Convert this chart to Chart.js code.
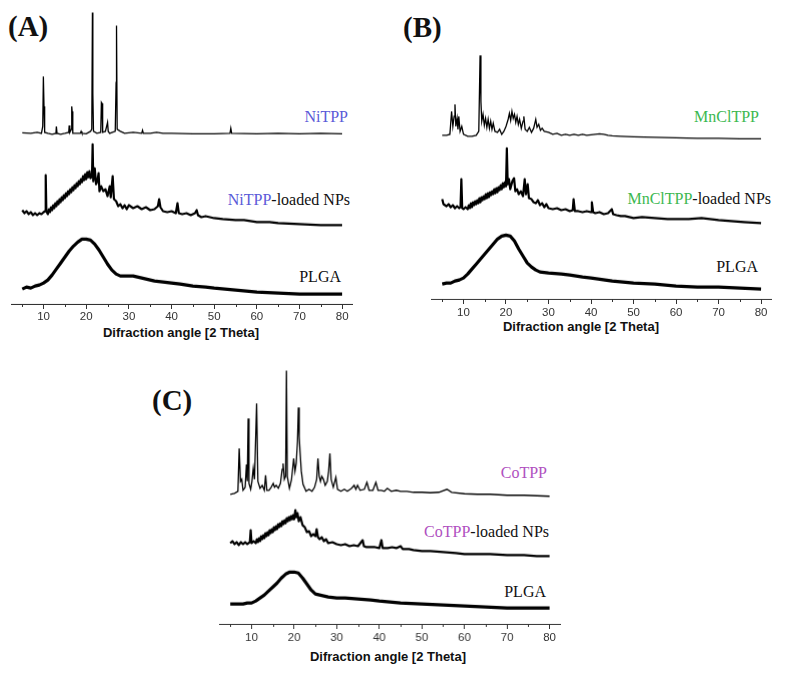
<!DOCTYPE html>
<html>
<head>
<meta charset="utf-8">
<script src="https://cdn.jsdelivr.net/npm/chart.js@4.4.1/dist/chart.umd.min.js"></script>
<style>
  html, body { margin: 0; padding: 0; background: #fff; }
  body { position: relative; width: 786px; height: 680px; overflow: hidden; }
  .box { position: absolute; }
  .lbl { position: absolute; font-family: "Liberation Serif", serif; font-size: 16px; line-height: 16px; color: #111; white-space: nowrap; }
  .tag { position: absolute; font-family: "Liberation Serif", serif; font-weight: bold; font-size: 29px; line-height: 29px; color: #111; }
  .xt  { position: absolute; font-family: "Liberation Sans", Arial, sans-serif; font-weight: bold; font-size: 13px; line-height: 14px; color: #111; white-space: nowrap; transform: translateX(-50%); }
</style>
</head>
<body>

<div class="tag" style="left:8px; top:12px;">(A)</div>
<div class="tag" style="left:403px; top:13px;">(B)</div>
<div class="tag" style="left:152px; top:386px;">(C)</div>

<div class="lbl" style="right:438px; top:109px;"><span style="color:#5a5ad8">NiTPP</span></div>
<div class="lbl" style="right:436px; top:192px;"><span style="color:#5a5ad8">NiTPP</span>-loaded NPs</div>
<div class="lbl" style="right:445px; top:269px;">PLGA</div>

<div class="lbl" style="right:27px; top:109px;"><span style="color:#3cb850">MnClTPP</span></div>
<div class="lbl" style="right:15px; top:191px;"><span style="color:#3cb850">MnClTPP</span>-loaded NPs</div>
<div class="lbl" style="right:28px; top:259px;">PLGA</div>

<div class="lbl" style="right:239px; top:465px;"><span style="color:#b050c0">CoTPP</span></div>
<div class="lbl" style="right:237px; top:524px;"><span style="color:#b050c0">CoTPP</span>-loaded NPs</div>
<div class="lbl" style="right:240px; top:584px;">PLGA</div>

<div class="xt" style="left:181px; top:326px;">Difraction angle [2 Theta]</div>
<div class="xt" style="left:581px; top:320px;">Difraction angle [2 Theta]</div>
<div class="xt" style="left:388px; top:650px;">Difraction angle [2 Theta]</div>

<div class="box" id="boxA"><canvas id="cA"></canvas></div>
<div class="box" id="boxB"><canvas id="cB"></canvas></div>
<div class="box" id="boxC"><canvas id="cC"></canvas></div>

<script>
// x ticks (2 Theta), labels only on multiples of 10
const tickValues = [5, 10, 15, 20, 25, 30, 35, 40, 45, 50, 55, 60, 65, 70, 75, 80];

// ---- panel A (intensity, a.u., offset stacked) ----
const niTPP = [
  [5,171.5],[7,171],[8.5,172],[9.5,171],[9.8,178],[9.95,228],[10.1,198],[10.25,172],[11,171],[12,170],
  [12.9,171],[13,178],[13.15,171],[14,170],[15,171],[15.9,172],[16,179],[16.15,172],[16.5,175],[16.6,198],
  [16.7,193],[16.85,171],[17.5,171],[18.6,171],[18.8,173],[19,171],[20,170.5],[21,173],[21.3,175],[21.45,292],
  [21.55,211],[21.7,173],[22.5,171],[23.4,172],[23.55,202],[23.7,201],[23.85,172],[24.5,173],[25,182],[25.15,173],
  [25.5,171],[26.8,173],[27,222],[27.1,279],[27.25,175],[28,173],[29,171],[31,172],[33,171],[33.2,174],
  [33.4,171],[35,171],[36.5,172],[38,171],[40,171],[45,170.5],[50,170.5],[53.7,171],[53.9,176],[54.1,171],
  [60,170.5],[65,171],[70,170.5],[75,171],[80,170.5]
];
const niTPPnp = [
  [5,94],[5.5,91],[6,93],[6.5,90],[7,92],[7.5,89],[8,91],[8.5,89],[9,91],[9.5,90],
  [10,92],[10.35,93],[10.5,129],[10.65,93],[11,90],[11.25,95],[11.5,92],[11.75,97],[12,94],[12.25,99],
  [12.5,96],[12.75,101],[13,98],[13.25,103],[13.5,100],[13.75,105],[14,102],[14.25,107],[14.5,104],[14.75,109],
  [15,106],[15.25,111],[15.5,108],[15.75,113],[16,110],[16.25,115],[16.5,112],[16.75,117],[17,114],[17.25,119],
  [17.5,116],[17.75,121],[18,118],[18.25,123],[18.5,120],[18.75,125],[19,122],[19.25,128],[19.5,124],[19.75,130],
  [20,125],[20.25,132],[20.5,127],[20.75,133],[21,126],[21.35,128],[21.5,160],[21.65,123],[22,136],[22.3,120],
  [22.6,123],[22.9,131],[23.1,113],[23.5,118],[24,113],[24.5,115],[25,108],[25.5,118],[25.75,107],[26.2,128],
  [26.5,105],[27,103],[27.5,98],[28,100],[28.5,96],[29,99],[29.5,95],[30,99],[31,96],[32,98],[33,95],[34,97],
  [35,94],[36,95],[36.8,98],[37.1,105],[37.4,97],[38,93],[39,92],[40,93],[41,91],[41.4,101],
  [41.7,91],[42.5,90],[43.5,91],[44.5,89],[45.5,91],[45.9,94],[46.2,89],[47,87],[48,88],[50,86],
  [52,85],[55,84],[57,84],[60,82],[63,82],[65,81],[70,80],[75,79],[80,79]
];
const plgaA = [
  [5,15],[6,17],[7,16],[8,18],[9,19],[10,21],[11,24],[12,29],[13,35],[14,41],
  [15,47],[16,53],[17,58],[18,62],[19,65],[20,65],[21,64],[22,60],[23,54],[24,47],
  [25,40],[26,34],[27,30],[28,28],[29,28],[30,28],[31,28],[32,27],[34,25],[36,23],
  [38,22],[40,21],[42,20],[45,18],[48,17],[50,16],[55,14],[60,12],[65,11],[70,10],[75,10],[80,10]
];

// ---- panel B ----
const mnClTPP = [
  [5,164],[6,164],[6.8,165],[7.2,188],[7.5,173],[7.8,183],[8,195],[8.2,173],[8.5,181],[8.7,170],
  [8.9,183],[9.2,168],[9.6,173],[10,165],[11,163],[12,163],[13,164],[13.6,168],[13.9,244],[14.1,198],
  [14.3,178],[14.6,185],[14.9,174],[15.2,181],[15.5,172],[15.8,180],[16.1,171],[16.4,178],[16.7,170],[17,176],
  [17.4,168],[18,167],[18.5,170],[19,165],[19.5,168],[20,173],[20.5,180],[20.8,186],[21.1,179],[21.4,188],
  [21.7,181],[22,185],[22.3,177],[22.6,183],[22.9,175],[23.2,180],[23.6,171],[24,178],[24.2,183],[24.5,170],
  [25,168],[25.5,172],[26,167],[26.5,171],[27,180],[27.3,172],[27.7,175],[28.1,169],[28.5,171],[29,168],
  [30,167],[31,165],[32,166],[33,164],[34,165],[35,164],[36,165],[37,164],[38,165],[39,164],
  [40,164.5],[41,165],[42,165.5],[43,165],[44,164],[45,163.5],[47,163],[50,162.5],[55,162],[60,161.5],
  [65,161],[70,161],[75,160.5],[80,160.5]
];
const mnClTPPnp = [
  [5,100],[5.3,95],[6,93],[6.5,95],[7,92],[7.5,94],[8,91],[8.5,93],[9,91],[9.3,92],
  [9.5,120],[9.7,91],[10,90],[10.5,92],[11,90],[11.25,94],[11.5,91],[11.75,96],[12,92],[12.25,97],
  [12.5,94],[12.75,98],[13,95],[13.25,99],[13.5,96],[13.75,101],[14,97],[14.25,102],[14.5,99],[14.75,103],
  [15,100],[15.25,105],[15.5,101],[15.75,106],[16,102],[16.25,107],[16.5,104],[16.75,108],[17,105],[17.25,110],
  [17.5,106],[17.75,111],[18,107],[18.25,112],[18.5,109],[18.75,114],[19,110],[19.25,116],[19.5,112],[19.75,117],
  [20,113],[20.2,151],[20.4,115],[20.7,120],[21,110],[21.5,118],[21.9,121],[22.2,108],
  [22.6,110],[23,105],[23.5,108],[24,103],[24.4,120],[24.7,105],[25.1,115],[25.4,101],[26,100],[26.5,97],
  [27,96],[27.5,99],[28,94],[28.5,96],[29,92],[29.5,95],[30,91],[31,90],[32,91],[33,89],[34,90],[35,88],[35.7,89],
  [35.9,100],[36.2,88],[37,88],[38,87],[39,88],[40,87],[40.2,97],[40.5,87],[41,86],[42,87],
  [43,85],[44,86],[44.9,90],[45.2,85],[46,84],[47,83],[48,83],[50,81],[52,82],[55,81],
  [58,80],[60,80],[63,80],[66,81],[70,79],[73,78],[76,77],[80,76]
];
const plgaB = [
  [5,15],[6,16],[7,16],[8,18],[9,19],[10,21],[11,25],[12,30],[13,35],[14,40],
  [15,45],[16,50],[17,55],[18,60],[19,63],[20,64],[21,63],[22,58],[23,50],[24,43],
  [25,36],[26,32],[27,29],[28,27],[30,26],[33,25],[35,24],[38,22],[40,21],[45,18],
  [50,16],[55,15],[60,13],[65,12],[70,12],[75,11],[80,10]
];

// ---- panel C ----
const coTPP = [
  [5,130],[6,131],[6.8,133],[7.1,176],[7.4,143],[7.7,145],[8,134],[8.5,137],[8.8,160],[9,143],
  [9.2,206],[9.4,141],[9.8,135],[10.1,143],[10.4,156],[10.7,145],[11.2,221],[11.5,143],[12,136],[12.5,139],
  [13,134],[13.3,149],[13.6,134],[14.1,134],[14.6,137],[15.1,141],[15.4,137],[15.8,139],[16.3,136],[16.8,141],
  [17.2,155],[17.4,161],[17.7,145],[18,148],[18.2,254],[18.4,148],[18.9,136],[19.4,145],[19.9,166],[20.2,153],
  [20.5,161],[20.8,183],[21,217],[21.2,188],[21.4,173],[21.7,153],[22.1,140],[22.8,133],[23.5,135],[24.2,133],
  [24.8,137],[25.3,145],[25.6,166],[25.9,148],[26.2,143],[26.5,148],[26.9,145],[27.3,139],[27.8,143],[28.1,153],
  [28.4,171],[28.7,145],[29.2,137],[29.8,147],[30.2,135],[31,133],[31.8,135],[32.5,133],[33.5,136],[34.1,139],
  [34.5,135],[34.9,139],[35.5,134],[36.5,135],[37.1,142],[37.6,134],[38.5,134],[39.2,142],[39.7,134],[40.5,134],
  [41.2,133],[41.9,136],[42.8,133],[44,134],[45,133],[46.5,133],[48,132],[50,132],[52,131.5],[54,132],
  [55.9,135],[57,132],[60,130.5],[63,130],[66,130],[70,129],[74,129],[77,128.5],[80,128]
];
const coTPPnp = [
  [5,81],[5.5,83],[6,80],[6.5,82],[7,79],[7.5,82],[8,80],[8.5,82],[9,80],[9.6,82],
  [9.8,94],[10,81],[10.5,83],[11,81],[11.25,85],[11.5,82],[11.75,86],[12,83],[12.25,88],[12.5,85],
  [12.75,89],[13,86],[13.25,91],[13.5,88],[13.75,92],[14,89],[14.25,94],[14.5,91],[14.75,95],[15,92],
  [15.25,97],[15.5,94],[15.75,98],[16,95],[16.25,100],[16.5,97],[16.75,101],[17,98],[17.25,103],[17.5,100],
  [17.75,104],[18,101],[18.25,106],[18.5,103],[18.75,107],[19,104],[19.25,108],[19.5,105],[19.75,109],[20,105],
  [20.3,114],[20.5,107],[20.8,111],[21.1,103],[21.5,107],[22,99],[22.5,97],[23,92],
  [23.5,93],[24,88],[24.5,90],[25,88],[25.3,95],[25.6,87],[26,85],[26.5,87],[27,83],[27.5,85],[28,81],[29,82],
  [30,80],[31,79],[32,80],[33,78],[34,79],[35,78],[36.1,84],[36.4,78],[37,77],[38,77],
  [39,77],[40,76],[40.5,84],[40.8,76],[42,76],[43,77],[44,76],[45,78],[45.5,75],[47,75],
  [48,74],[50,73],[52,73],[55,72],[58,71],[60,70],[63,70],[66,70],[70,69],[74,69],[77,68],[80,68]
];
const plgaC = [
  [5,20],[6,20],[7,20],[8,20],[9,21],[10,21],[11,23],[12,26],[13,29],[14,33],
  [15,37],[16,41],[17,46],[18,50],[19,52],[20,52],[21,51],[22,46],[23,40],[24,34],
  [25,30],[26,29],[27,28],[28,27],[30,26],[32,26],[35,25],[38,24],[40,23],[45,21],
  [50,20],[55,19],[60,18],[65,17],[70,16],[75,16],[80,16]
];

// 副目盛 (5, 15, ...) を短く描く
const minorTicks = {
  id: 'minorTicks',
  afterDraw(chart) {
    const xs = chart.scales.x;
    const ctx = chart.ctx;
    ctx.save();
    ctx.strokeStyle = '#333';
    ctx.lineWidth = 1;
    tickValues.forEach(function(v) {
      if (v % 10 === 0) return;
      const px = Math.round(xs.getPixelForValue(v)) + 0.5;
      ctx.beginPath();
      ctx.moveTo(px, xs.top);
      ctx.lineTo(px, xs.top + 3);
      ctx.stroke();
    });
    ctx.restore();
  }
};

function toPts(arr) {
  return arr.map(function(p) { return {x: p[0], y: p[1]}; });
}

function makePanel(id, boxId, opt, series) {
  const box = document.getElementById(boxId);
  const lh = 11.5;
  const h = opt.yMax + 5 + opt.pad * 2 + lh;
  box.style.left = opt.left + 'px';
  box.style.top = opt.top + 'px';
  box.style.width = opt.width + 'px';
  box.style.height = h + 'px';

  new Chart(document.getElementById(id), {
    type: 'line',
    data: {
      datasets: series.map(function(s) {
        return {
          data: toPts(s.data),
          borderColor: '#000',
          borderWidth: s.w,
          borderJoinStyle: s.join,
          pointRadius: 0,
          tension: 0,
          fill: false
        };
      })
    },
    options: {
      responsive: true,
      maintainAspectRatio: false,
      devicePixelRatio: 1,
      animation: false,
      events: [],
      layout: {padding: 0},
      plugins: {legend: {display: false}, tooltip: {enabled: false}},
      scales: {
        x: {
          type: 'linear',
          min: 2.5,
          max: 82.5,
          afterBuildTicks: function(axis) {
            axis.ticks = tickValues.map(function(v) { return {value: v}; });
          },
          ticks: {
            autoSkip: false,
            maxRotation: 0,
            padding: opt.pad,
            color: '#333',
            font: {family: 'Liberation Sans', size: 11.5, lineHeight: 1},
            callback: function(v) { return v % 10 === 0 ? String(v) : ''; }
          },
          grid: {
            drawOnChartArea: false,
            drawTicks: true,
            tickLength: 5,
            tickColor: function(c) {
              return c.tick && c.tick.value % 10 === 0 ? '#333' : 'rgba(0,0,0,0)';
            }
          },
          border: {display: true, color: '#333', width: 1}
        },
        y: {
          type: 'linear',
          display: false,
          min: 0,
          max: opt.yMax
        }
      }
    },
    plugins: [minorTicks]
  });
}

makePanel('cA', 'boxA', {left: 9.7, top: 0, width: 344.4, yMax: 303, pad: 2}, [
  {data: niTPP, w: 1.3, join: 'miter'},
  {data: niTPPnp, w: 2.2, join: 'round'},
  {data: plgaA, w: 3.2, join: 'round'}
]);
makePanel('cB', 'boxB', {left: 429.8, top: 0, width: 343.3, yMax: 298, pad: 3}, [
  {data: mnClTPP, w: 1.3, join: 'miter'},
  {data: mnClTPPnp, w: 2.2, join: 'round'},
  {data: plgaB, w: 3.2, join: 'round'}
]);
makePanel('cC', 'boxC', {left: 217.9, top: 350, width: 342.8, yMax: 273, pad: 3}, [
  {data: coTPP, w: 1.3, join: 'miter'},
  {data: coTPPnp, w: 2.2, join: 'round'},
  {data: plgaC, w: 3.2, join: 'round'}
]);
</script>
</body>
</html>
